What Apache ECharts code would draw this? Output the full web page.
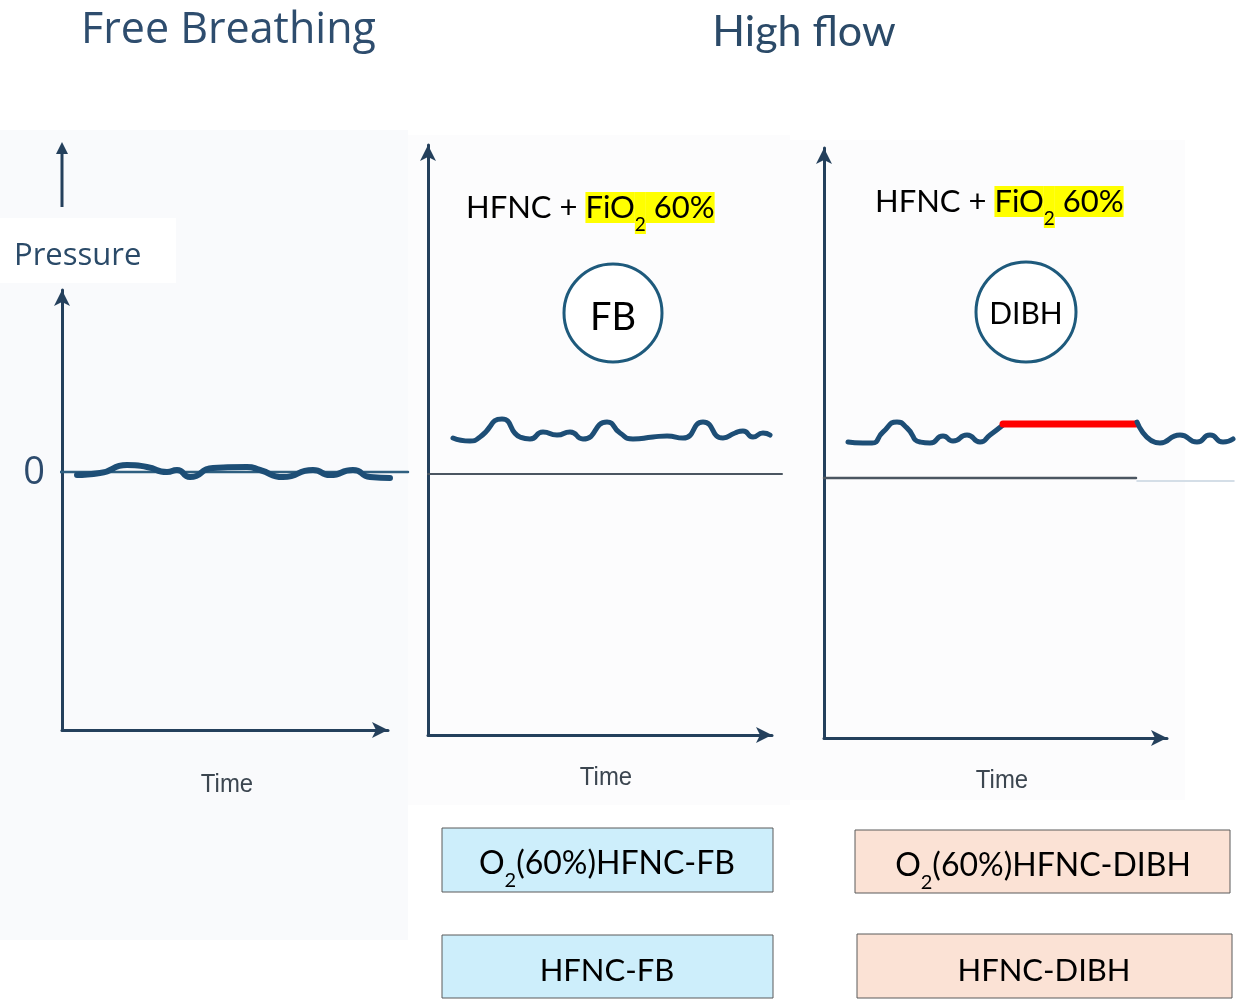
<html>
<head>
<meta charset="utf-8">
<script src="https://cdn.jsdelivr.net/npm/echarts@6/dist/echarts.min.js"></script>
</head>
<body style="margin:0">
    <div id="main" style="width:1255px;height:1001px;"></div>
</body>
</html>

<script>
    // free breathing (no flow): time / pressure offsets
    var fbTime = [15, 38, 65, 85, 105, 115, 128, 151, 185, 198, 221, 251, 268, 291, 308, 328];
    var fbPressure = [-3, -1, 7, 5, 0, 2, -5, 4, 5, 2, -5, 2, -3, 2, -5, -6];

    // high flow, free breathing
    var hfTime = [25, 42, 52, 74, 92, 102, 115, 129, 142, 155, 179, 192, 205, 225, 239, 255, 275, 295, 307, 315, 325, 335, 342];
    var hfPressure = [36, 33, 37, 55, 37, 35, 42, 39, 42, 35, 52, 41, 35, 37, 38, 36, 52, 36, 41, 43, 37, 41, 39];

    // high flow, deep inspiration breath hold
    var dibhTimeA = [24, 39, 48, 59, 73, 83, 96, 106, 119, 129, 143, 156, 166, 179];
    var dibhPressureA = [36, 35, 35, 46, 56, 50, 36, 35, 42, 37, 43, 36, 43, 53];
    var holdTime = [179, 312];
    var holdPressure = [54, 54];
    var dibhTimeB = [313, 336, 356, 373, 386, 399, 409];
    var dibhPressureB = [56, 35, 43, 36, 43, 36, 39];

    // zero lines (time extent)
    var zeroFb = [-10, 346];
    var zeroHf = [0, 354];
    var zeroDibh = [0, 312];
    var zeroDibhFaint = [313, 410];

    var axisColor = '#24405c';
    var waveColor = '#1d4e76';

    function zip(t, p) {
        return t.map(function (v, i) { return [v, p[i]]; });
    }

    function ax(i, min, max, show) {
        return {
            type: 'value', gridIndex: i, min: min, max: max, show: show,
            axisLine: { show: true, onZero: false, symbol: ['none', 'arrow'], symbolSize: [12, 16], lineStyle: { color: axisColor, width: 3 } },
            axisTick: { show: false }, axisLabel: { show: false }, splitLine: { show: false }
        };
    }
    // data series go on the wide hidden grids (index 3..5)
    function lineSeries(i, data, color, width, smooth) {
        return {
            type: 'line', xAxisIndex: i + 3, yAxisIndex: i + 3, data: data,
            symbol: 'none', smooth: smooth, clip: false, animation: false,
            lineStyle: { color: color, width: width, cap: 'round', join: 'round' }
        };
    }

    function subText(x, y, parts, size, subSize, bg, align) {
        var base = { fontSize: size, lineHeight: 40, verticalAlign: 'top', fontFamily: 'Lato', fill: '#000' };
        var rich = {
            n: Object.assign({}, base),
            h: Object.assign({}, base, { backgroundColor: bg }),
            s: { fontSize: subSize, lineHeight: 20, padding: [23, 0, 0, 0], verticalAlign: 'top', fontFamily: 'Lato', fill: '#000', backgroundColor: bg }
        };
        return {
            type: 'text', z: 10,
            style: { x: x, y: y, text: parts, rich: rich, align: align || 'left', verticalAlign: 'middle' }
        };
    }
    function timeLabel(x, y) {
        return {
            type: 'text', x: x, y: y, scaleX: 0.92,
            style: { x: 0, y: 0, text: 'Time', fontSize: 26, fontFamily: 'Liberation Sans', fill: '#3c4650', align: 'center', verticalAlign: 'middle' }
        };
    }

    var chartDom = document.getElementById('main');
    var myChart = echarts.init(chartDom);
    var option;

    var panels = [
        { left: 62, top: 290, width: 326, height: 440, min: -258, max: 182, wide: 370 },
        { left: 428, top: 145, width: 344, height: 590, min: -261, max: 329, wide: 370 },
        { left: 824, top: 148, width: 343, height: 590, min: -260, max: 330, wide: 420 }
    ];

    var grids = [], xAxes = [], yAxes = [];
    panels.forEach(function (p, i) {
        grids.push({ left: p.left, top: p.top, width: p.width, height: p.height });
        xAxes.push(ax(i, 0, p.width, true));
        yAxes.push(ax(i, p.min, p.max, true));
    });
    panels.forEach(function (p, i) {
        grids.push({ left: p.left, top: p.top, width: p.wide, height: p.height });
        xAxes.push(ax(i + 3, 0, p.wide, false));
        yAxes.push(ax(i + 3, p.min, p.max, false));
    });

    option = {
        backgroundColor: '#ffffff',
        animation: false,
        grid: grids,
        xAxis: xAxes,
        yAxis: yAxes,
        series: [
            lineSeries(0, zip(zeroFb, [0, 0]), '#2f5f80', 2.5, false),
            lineSeries(0, zip(fbTime, fbPressure), waveColor, 6, 0.6),
            lineSeries(1, zip(zeroHf, [0, 0]), '#4b5661', 2, false),
            lineSeries(1, zip(hfTime, hfPressure), waveColor, 5, 0.6),
            lineSeries(2, zip(zeroDibh, [0, 0]), '#4b5661', 2.5, false),
            lineSeries(2, zip(zeroDibhFaint, [-3, -3]), '#c6d3e0', 1.5, false),
            lineSeries(2, zip(dibhTimeA, dibhPressureA), waveColor, 5, 0.6),
            lineSeries(2, zip(holdTime, holdPressure), '#ff0000', 7, false),
            lineSeries(2, zip(dibhTimeB, dibhPressureB), waveColor, 5, 0.6)
        ],
        graphic: [
            // faint panel backgrounds
            { type: 'rect', z: -10, shape: { x: 0, y: 130, width: 408, height: 810 }, style: { fill: '#f9fafc' } },
            { type: 'rect', z: -10, shape: { x: 408, y: 135, width: 382, height: 670 }, style: { fill: '#fcfcfd' } },
            { type: 'rect', z: -10, shape: { x: 790, y: 140, width: 395, height: 660 }, style: { fill: '#fcfcfd' } },
            { type: 'rect', z: -9, shape: { x: 0, y: 218, width: 176, height: 65 }, style: { fill: '#ffffff' } },
            { type: 'text', style: { x: 81, y: 31, text: 'Free Breathing', fontSize: 43, fontFamily: 'Open Sans', fill: '#2e4d6e', verticalAlign: 'middle' } },
            { type: 'text', style: { x: 804, y: 32, text: 'High flow', fontSize: 43, fontFamily: 'Lato', fill: '#2b4a68', align: 'center', verticalAlign: 'middle' } },
            // extra arrow above the pressure label
            { type: 'line', shape: { x1: 62, y1: 207, x2: 62, y2: 152 }, style: { stroke: axisColor, lineWidth: 3 } },
            { type: 'polygon', shape: { points: [[56, 154], [62, 142], [68, 154]] }, style: { fill: axisColor } },
            { type: 'text', style: { x: 14, y: 256, text: 'Pressure', fontSize: 31, fontFamily: 'Open Sans', fill: '#2a4a68', verticalAlign: 'middle' } },
            { type: 'text', style: { x: 34, y: 473, text: '0', fontSize: 38, fontFamily: 'Open Sans', fill: '#2d4b6d', align: 'center', verticalAlign: 'middle' } },
            timeLabel(227, 785),
            timeLabel(606, 778),
            timeLabel(1002, 781),
            subText(466, 212, '{n|HFNC + }{h|FiO}{s|2}{h| 60%}', 31, 19, '#ffff00'),
            subText(875, 206, '{n|HFNC + }{h|FiO}{s|2}{h| 60%}', 31, 19, '#ffff00'),
            { type: 'circle', shape: { cx: 613, cy: 313, r: 49 }, style: { fill: '#ffffff', stroke: '#1e5a7c', lineWidth: 3 } },
            { type: 'text', style: { x: 613, y: 318, text: 'FB', fontSize: 38, fontFamily: 'Lato', fill: '#000', align: 'center', verticalAlign: 'middle' } },
            { type: 'circle', shape: { cx: 1026, cy: 312, r: 50 }, style: { fill: '#ffffff', stroke: '#1e5a7c', lineWidth: 3 } },
            { type: 'text', style: { x: 1026, y: 314, text: 'DIBH', fontSize: 30, fontFamily: 'Lato', fill: '#000', align: 'center', verticalAlign: 'middle' } },
            // group boxes
            { type: 'rect', shape: { x: 442, y: 828, width: 331, height: 64 }, style: { fill: '#cdeefb', stroke: '#5a5a5a', lineWidth: 1 } },
            { type: 'rect', shape: { x: 442, y: 935, width: 331, height: 63 }, style: { fill: '#cdeefb', stroke: '#5a5a5a', lineWidth: 1 } },
            { type: 'rect', shape: { x: 855, y: 830, width: 375, height: 63 }, style: { fill: '#fbe2d5', stroke: '#5a5a5a', lineWidth: 1 } },
            { type: 'rect', shape: { x: 857, y: 934, width: 375, height: 64 }, style: { fill: '#fbe2d5', stroke: '#5a5a5a', lineWidth: 1 } },
            subText(607, 868, '{n|O}{s|2}{n|(60%)HFNC-FB}', 32, 20, 'transparent', 'center'),
            { type: 'text', style: { x: 607, y: 971, text: 'HFNC-FB', fontSize: 31, fontFamily: 'Lato', fill: '#000', align: 'center', verticalAlign: 'middle' } },
            subText(1043, 870, '{n|O}{s|2}{n|(60%)HFNC-DIBH}', 32, 20, 'transparent', 'center'),
            { type: 'text', style: { x: 1044, y: 971, text: 'HFNC-DIBH', fontSize: 31, fontFamily: 'Lato', fill: '#000', align: 'center', verticalAlign: 'middle' } }
        ]
    };

    option && myChart.setOption(option);
</script>
